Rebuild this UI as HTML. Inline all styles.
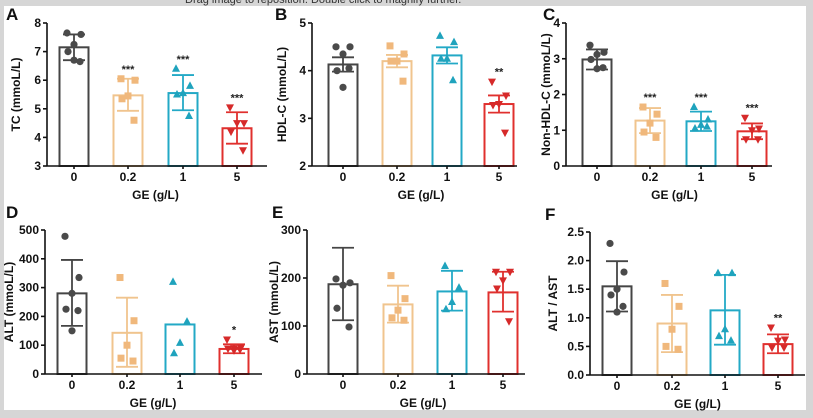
<!DOCTYPE html>
<html><head><meta charset="utf-8"><style>
html,body{margin:0;padding:0;background:#d6d6d6;}
svg{display:block;font-family:"Liberation Sans",Arial,sans-serif;}
</style></head><body>
<svg id="fig" width="813" height="418" viewBox="0 0 813 418">
<rect x="0" y="0" width="813" height="418" fill="#d6d6d6"/>
<rect x="4" y="6" width="802" height="404" fill="#ffffff"/>
<text x="185" y="3" font-size="11" fill="#333">Drag image to reposition. Double click to magnify further.</text>
</svg>
<script>
const groups = ["0","0.2","1","5"];
// A: TC
const tcMeans=[7.15,5.47,5.55,4.32];
const tcErrHi=[7.6,6.05,6.18,4.88];
const tcErrLo=[6.7,4.93,4.95,3.78];
const tcPoints=[[7.65,7.6,7.25,7.0,6.65,6.7],[6.05,6.0,5.45,5.35,4.6],[6.4,5.8,5.55,5.5,4.75],[5.05,4.5,4.5,4.2,3.55]];
const tcSig=["","***","***","***"];
// B: HDL-C
const hdlMeans=[4.13,4.2,4.32,3.3];
const hdlErrHi=[4.28,4.33,4.49,3.48];
const hdlErrLo=[3.98,4.07,4.15,3.12];
const hdlPoints=[[4.5,4.5,4.35,4.0,4.05,3.65],[4.52,4.35,4.2,4.2,3.78],[4.73,4.6,4.25,4.25,3.8],[3.77,3.48,3.3,3.28,2.7]];
const hdlSig=["","","","**"];
// C: Non-HDL-C
const nhdlMeans=[2.98,1.27,1.25,0.97];
const nhdlErrHi=[3.26,1.62,1.52,1.19];
const nhdlErrLo=[2.7,0.92,0.98,0.75];
const nhdlPoints=[[3.38,3.18,3.12,2.98,2.75,2.72],[1.65,1.45,1.2,0.95,0.8],[1.65,1.3,1.15,1.05,1.1],[1.35,1.05,1.0,0.75,0.75]];
const nhdlSig=["","***","***","***"];
// D: ALT
const altMeans=[280,143,172,87];
const altErrHi=[396,265,172,103];
const altErrLo=[167,25,172,72];
const altPoints=[[478,335,280,225,220,150],[335,185,100,55,45],[320,182,108,72],[120,92,90,88,85,82]];
const altSig=["","","","*"];
// E: AST
const astMeans=[187,145,172,170];
const astErrHi=[263,184,215,213];
const astErrLo=[112,107,132,130];
const astPoints=[[198,190,185,137,98],[205,157,133,117,112],[225,180,150,135],[213,213,195,178,110]];
const astSig=["","","",""];
// F: ALT/AST
const ratioMeans=[1.55,0.9,1.13,0.54];
const ratioErrHi=[1.99,1.40,1.75,0.71];
const ratioErrLo=[1.11,0.40,0.53,0.38];
const ratioPoints=[[2.3,1.8,1.5,1.4,1.2,1.1],[1.6,1.2,0.8,0.5,0.45],[1.78,1.78,0.8,0.68,0.6],[0.83,0.62,0.6,0.48,0.48]];
const ratioSig=["","","","**"];

const yTicksA=[3,4,5,6,7,8], yTicksB=[2,3,4,5], yTicksC=[0,1,2,3,4];
const yTicksD=[0,100,200,300,400,500], yTicksE=[0,100,200,300], yTicksF=[0,0.5,1.0,1.5,2.0,2.5];

const strokeCols=["#454545","#f0c48e","#23a9c6","#e0302e"];
const fillCols=["#4a4a4a","#f0b87c","#1fa3bd","#d62a2a"];
const jit=[-7,7,0,-6,6,0];
const NS="http://www.w3.org/2000/svg";
const svg=document.getElementById('fig');
function mk(tag,attrs,parent){const e=document.createElementNS(NS,tag);for(const k in attrs)e.setAttribute(k,attrs[k]);(parent||svg).appendChild(e);return e;}

const panels=[
 {id:"a",letter:"A",lx:6,ly:20,ax:47,xe:267,yt:23,yb:166,min:3,max:8,ticks:yTicksA,dec:0,off:[27,81,136,190],label:"TC (mmoL/L)",lab:20,m:tcMeans,hi:tcErrHi,lo:tcErrLo,p:tcPoints,s:tcSig},
 {id:"b",letter:"B",lx:275,ly:20,ax:312,xe:517,yt:23,yb:166,min:2,max:5,ticks:yTicksB,dec:0,off:[31,85,135,187],label:"HDL-C (mmoL/L)",lab:286,m:hdlMeans,hi:hdlErrHi,lo:hdlErrLo,p:hdlPoints,s:hdlSig},
 {id:"c",letter:"C",lx:543,ly:20,ax:566,xe:772,yt:23,yb:166,min:0,max:4,ticks:yTicksC,dec:0,off:[31,84,135,186],label:"Non-HDL-C (mmoL/L)",lab:550,m:nhdlMeans,hi:nhdlErrHi,lo:nhdlErrLo,p:nhdlPoints,s:nhdlSig},
 {id:"d",letter:"D",lx:6,ly:218,ax:45,xe:262,yt:230,yb:374,min:0,max:500,ticks:yTicksD,dec:0,off:[27,82,135,189],label:"ALT (mmoL/L)",lab:13,m:altMeans,hi:altErrHi,lo:altErrLo,p:altPoints,s:altSig},
 {id:"e",letter:"E",lx:272,ly:218,ax:307,xe:525,yt:230,yb:374,min:0,max:300,ticks:yTicksE,dec:0,off:[36,91,145,196],label:"AST (mmoL/L)",lab:278,m:astMeans,hi:astErrHi,lo:astErrLo,p:astPoints,s:astSig},
 {id:"f",letter:"F",lx:545,ly:220,ax:590,xe:805,yt:232,yb:375,min:0,max:2.5,ticks:yTicksF,dec:1,off:[27,82,135,188],label:"ALT / AST",lab:557,m:ratioMeans,hi:ratioErrHi,lo:ratioErrLo,p:ratioPoints,s:ratioSig}
];

panels.forEach(P=>{
 const g=mk('g',{});
 
 
 const y=v=>P.yb-(v-P.min)/(P.max-P.min)*(P.yb-P.yt);
 const t=mk('text',{x:P.lx,y:P.ly,'font-size':17,'font-weight':'bold',fill:'#111'},g);t.textContent=P.letter;
 
 
 const bw=29;
 // bars
 P.m.forEach((v,i)=>{
  const cx=P.ax+P.off[i];
  const r=mk('rect',{x:cx-bw/2,y:y(v),width:bw,height:P.yb-y(v),fill:'#fff',stroke:strokeCols[i],'stroke-width':2},g);
  
  
 });
 // error bars
 P.m.forEach((v,i)=>{
  const cx=P.ax+P.off[i],c=strokeCols[i];
  if(P.hi[i]===P.lo[i])return;
  const e=mk('g',{stroke:c,'stroke-width':1.8},g);
  
  
  mk('line',{x1:cx,x2:cx,y1:y(P.hi[i]),y2:y(P.lo[i])},e);
  mk('line',{x1:cx-11,x2:cx+11,y1:y(P.hi[i]),y2:y(P.hi[i])},e);
  mk('line',{x1:cx-11,x2:cx+11,y1:y(P.lo[i]),y2:y(P.lo[i])},e);
 });
 // points
 P.p.forEach((arr,i)=>{
  const cx=P.ax+P.off[i],c=fillCols[i];
  arr.forEach((v,k)=>{
   const px=cx+jit[k%6],py=y(v);let el;
   if(i===0) el=mk('circle',{cx:px,cy:py,r:3.6,fill:c},g);
   else if(i===1) el=mk('rect',{x:px-3.5,y:py-3.5,width:7,height:7,fill:c},g);
   else if(i===2) el=mk('polygon',{points:`${px},${py-4.5} ${px-4},${py+3} ${px+4},${py+3}`,fill:c},g);
   else el=mk('polygon',{points:`${px},${py+4.5} ${px-4},${py-3} ${px+4},${py-3}`,fill:c},g);
   
   
  });
  if(P.s[i]){
   const top=Math.max(P.hi[i],...arr);
   const st=mk('text',{x:cx,y:y(top)-6,'font-size':11,'font-weight':'bold','text-anchor':'middle',fill:'#222'},g);
   st.textContent=P.s[i];
   
   
  }
 });
 // axes
 const ax=mk('g',{stroke:'#111','stroke-width':1.6},g);
 
 
 mk('line',{x1:P.ax,x2:P.ax,y1:P.yt,y2:P.yb},ax);
 mk('line',{x1:P.ax,x2:P.xe,y1:P.yb,y2:P.yb},ax);
 P.ticks.forEach(tv=>{
  mk('line',{x1:P.ax-4,x2:P.ax,y1:y(tv),y2:y(tv)},ax);
  const tl=mk('text',{x:P.ax-6,y:y(tv)+4,'font-size':12,'font-weight':'bold','text-anchor':'end',fill:'#111'},g);
  tl.textContent=tv.toFixed(P.dec);
  
  
 });
 groups.forEach((gname,i)=>{
  const cx=P.ax+P.off[i];
  mk('line',{x1:cx,x2:cx,y1:P.yb,y2:P.yb+3},ax);
  const xl=mk('text',{x:cx,y:P.yb+15,'font-size':12,'font-weight':'bold','text-anchor':'middle',fill:'#111'},g);
  xl.textContent=gname;
  
  
 });
 const xt=mk('text',{x:(P.ax+P.off[0]+P.ax+P.off[3])/2,y:P.yb+33,'font-size':12,'font-weight':'bold','text-anchor':'middle',fill:'#111'},g);
 xt.textContent='GE (g/L)';
 
 
 const ym=(P.yt+P.yb)/2;
 const yt=mk('text',{x:P.lab,y:ym,'font-size':12,'font-weight':'bold','text-anchor':'middle',fill:'#111',transform:`rotate(-90 ${P.lab} ${ym})`},g);
 yt.textContent=P.label;
 
 
});
</script>
</body></html>
